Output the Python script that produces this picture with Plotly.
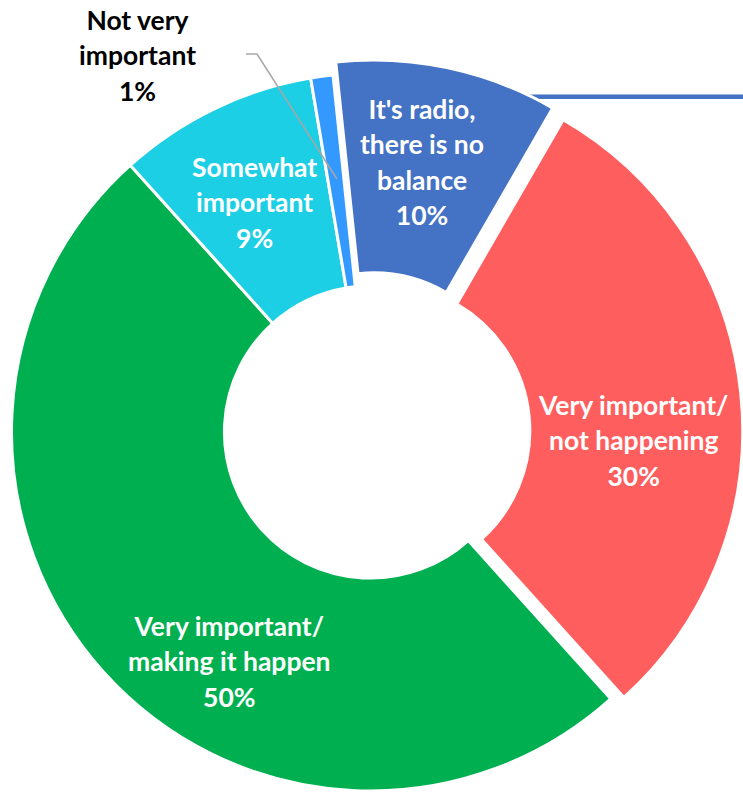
import math
import plotly.graph_objects as go

# Survey answers, listed clockwise from the top of the ring
categories = [
    "It's radio, there is no balance",
    "Very important/ not happening",
    "Very important/ making it happen",
    "Somewhat important",
    "Not very important",
]
label_lines = [
    "It's radio,<br>there is no<br>balance",
    "Very important/<br>not happening",
    "Very important/<br>making it happen",
    "Somewhat<br>important",
    "Not very<br>important",
]
shares = [10, 30, 50, 9, 1]
pulls = [0.037, 0.037, 0, 0, 0]
colors = ["#4472C4", "#FF5E5E", "#00B050", "#1CCFE4", "#3399FF"]
text_colors = ["white", "white", "white", "white", "black"]

# Page and ring geometry (pixels)
W, H = 743, 795
CX, CY, R = 370.5, 432.0, 359.0
HOLE = 0.407
ROTATION = -6
BORDER = 3
CLEAR = "rgba(0,0,0,0)"
LABEL_SIZE = 26.5
LINE_PITCH = 27.3

# label centres (pixels from top-left)
label_px = [(422, 162), (633, 440), (229, 661), (254, 203), (137, 56)]

total = sum(shares)


def mid_angle(i):
    start = ROTATION + 360.0 * sum(shares[:i]) / total
    return math.radians(start + 180.0 * shares[i] / total)


def domain_at(cx, cy):
    return dict(
        x=[max(0.0, (cx - R) / W), min(1.0, (cx + R) / W)],
        y=[max(0.0, 1 - (cy + R) / H), min(1.0, 1 - (cy - R) / H)],
    )


def ring(visible, cx, cy):
    return go.Pie(
        labels=categories,
        values=shares,
        sort=False,
        direction="clockwise",
        rotation=ROTATION,
        hole=HOLE,
        textinfo="none",
        hoverinfo="skip",
        showlegend=False,
        domain=domain_at(cx, cy),
        marker=dict(
            colors=[c if v else CLEAR for c, v in zip(colors, visible)],
            line=dict(color="white", width=[BORDER if v else 0 for v in visible]),
        ),
    )


fig = go.Figure()

# slices that stay in place
fig.add_trace(ring([p == 0 for p in pulls], CX, CY))

# each exploded slice is shifted outward along its own bisector
for i, p in enumerate(pulls):
    if p > 0:
        a = mid_angle(i)
        dx = p * R * math.sin(a)
        dy = -p * R * math.cos(a)
        fig.add_trace(ring([j == i for j in range(len(shares))], CX + dx, CY + dy))

# slice labels
for i, (px, py) in enumerate(label_px):
    lines = label_lines[i].split("<br>") + [f"{shares[i]}%"]
    txt = "<br>".join(f'<span style="font-size:{LABEL_SIZE}px">{ln}</span>' for ln in lines)
    fig.add_annotation(
        x=px / W, y=1 - py / H, xref="paper", yref="paper",
        text=txt, showarrow=False, xanchor="center", yanchor="middle",
        font=dict(family="Lato", size=LINE_PITCH, color=text_colors[i], weight="bold"),
    )


def pt(x, y):
    return f"{x / W:.5f},{1 - y / H:.5f}"


# callout rule leaving the top slice towards the right
fig.add_shape(
    type="line", xref="paper", yref="paper",
    x0=480 / W, x1=1.0, y0=1 - 96.7 / H, y1=1 - 96.7 / H,
    line=dict(color="#4472C4", width=4.5), layer="below",
)

# leader for the small slice label
fig.add_shape(
    type="path", xref="paper", yref="paper",
    path=f"M {pt(246, 54)} L {pt(257, 54)} L {pt(337, 179)}",
    line=dict(color="#A6A6A6", width=1.5),
)

fig.update_layout(
    width=W, height=H,
    margin=dict(l=0, r=0, t=0, b=0),
    paper_bgcolor="white",
    plot_bgcolor="white",
    showlegend=False,
)

fig.write_html("out.html")
